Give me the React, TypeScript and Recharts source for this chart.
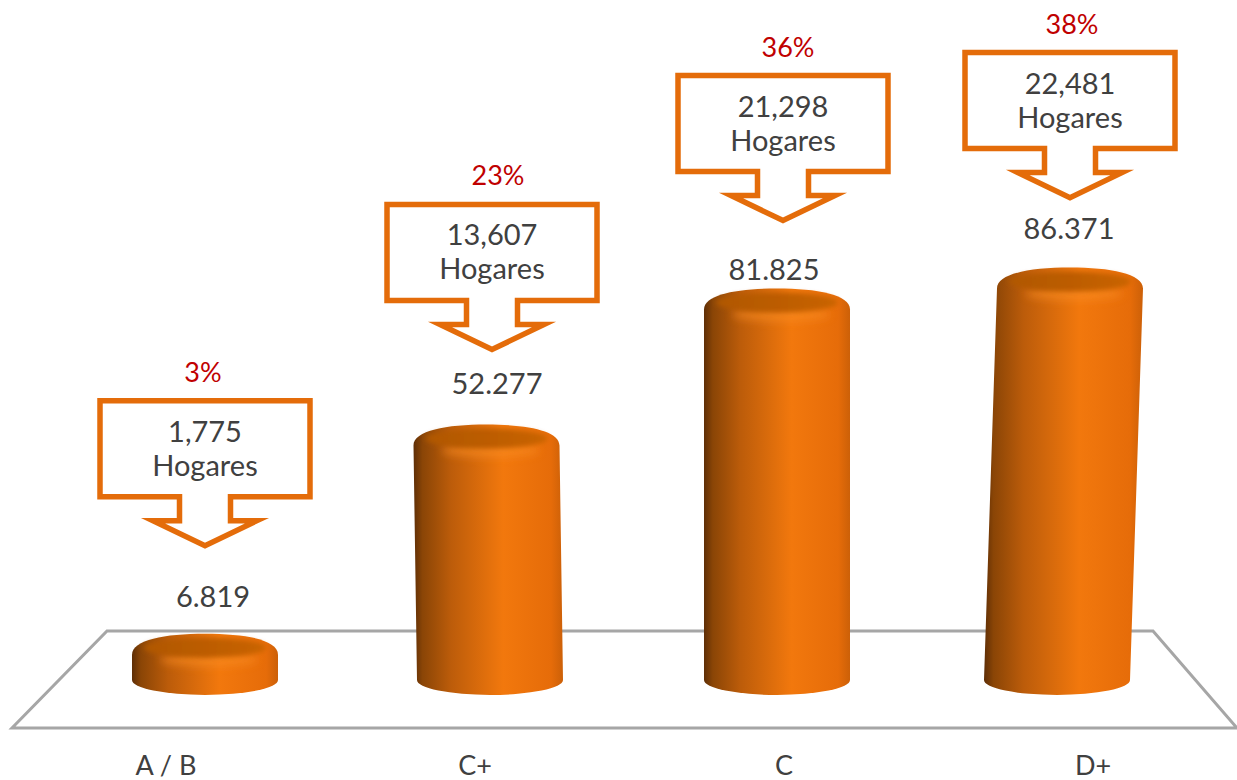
import React from 'react';
import { BarChart, Bar, XAxis, YAxis, LabelList } from 'recharts';

const categories = ['A / B', 'C+', 'C', 'D+'];
const values = [6.819, 52.277, 81.825, 86.371];
const households = ['1,775', '13,607', '21,298', '22,481'];
const shares = ['3%', '23%', '36%', '38%'];

// hand nudges, the source picture is not evenly laid out
const topShift = [0, -5, -1, 5.5];
const bottomShift = [0, -1.5, -1, -7.5];
const calloutLift = [103, 90, 83, 85];
const calloutShift = [0, 0.5, 5, 5.5];
const valueLift = [52, 55, 34, 54];
const valueShift = [8, 5.5, -4, 4.5];
const shareShift = [-2, 6, 5, 2];

const FONT = 'Lato, "Open Sans", sans-serif';
const ORANGE = '#E46C0A';
const TEXT = '#404040';

const data = categories.map((category, i) => ({ category, value: values[i] }));

const Cylinder = ({ x, y, width, height, index }: any) => {
  const cx = x + width / 2;
  const top = cx + topShift[index];
  const bottom = cx + bottomShift[index];
  const base = y + height;
  const rx = width / 2;
  const ry = 15;
  const body = [
    `M${top - rx} ${y + 6}`,
    `C${top - rx} ${y - 9} ${top - rx * 0.55} ${y - ry} ${top} ${y - ry}`,
    `C${top + rx * 0.55} ${y - ry} ${top + rx} ${y - 9} ${top + rx} ${y + 6}`,
    `L${bottom + rx} ${base}`,
    `A${rx} ${ry} 0 0 1 ${bottom - rx} ${base}`,
    'Z',
  ].join(' ');
  return (
    <g>
      <path d={body} fill="url(#cylBody)" />
      <ellipse cx={top + 4} cy={y + 11} rx={rx - 24} ry={7} fill="#F98C22" opacity={0.6} filter="url(#soft)" />
      <ellipse cx={top} cy={y - 1} rx={rx - 12} ry={ry - 5} fill="url(#cylCap)" filter="url(#softer)" />
    </g>
  );
};

const Callout = ({ x, y, width, index }: any) => {
  const tx = x + width / 2 + calloutShift[index];
  const tip = y - calloutLift[index];
  const rectTop = tip - 145;
  const rectBottom = tip - 49;
  const outline = [
    [-105, rectTop], [105, rectTop], [105, rectBottom], [25.5, rectBottom],
    [25.5, tip - 25], [52, tip - 25], [0, tip], [-52, tip - 25],
    [-25.5, tip - 25], [-25.5, rectBottom], [-105, rectBottom],
  ].map(([dx, py]) => `${tx + dx},${py}`).join(' ');
  return (
    <g fontFamily={FONT} textAnchor="middle">
      <polygon points={outline} fill="#fff" stroke={ORANGE} strokeWidth={5.5} strokeMiterlimit={6} />
      <text x={tx} y={rectTop + 41} fontSize={29} fill={TEXT}>{households[index]}</text>
      <text x={tx} y={rectTop + 75} fontSize={29} fill={TEXT}>Hogares</text>
      <text x={tx + shareShift[index]} y={rectTop - 19} fontSize={27} fill="#C00000">{shares[index]}</text>
    </g>
  );
};

const ValueLabel = ({ x, y, width, index, value }: any) => (
  <text
    x={x + width / 2 + valueShift[index]}
    y={y - valueLift[index] + 10}
    textAnchor="middle"
    fontFamily={FONT}
    fontSize={29}
    fill={TEXT}
  >
    {Number(value).toFixed(3)}
  </text>
);

const App = () => (
  <div style={{ position: 'absolute', left: 0, top: 0, width: 1237, height: 780, background: '#fff' }}>
    <BarChart width={1237} height={780} data={data} margin={{ top: 0, right: 0, bottom: 0, left: 0 }}>
      <defs>
        <linearGradient id="cylBody" x1="0" y1="0" x2="1" y2="0">
          <stop offset="0" stopColor="#5E2E06" />
          <stop offset="0.06" stopColor="#8A4506" />
          <stop offset="0.25" stopColor="#BC5C0A" />
          <stop offset="0.6" stopColor="#F2780D" />
          <stop offset="0.92" stopColor="#E66C09" />
          <stop offset="1" stopColor="#CC6008" />
        </linearGradient>
        <linearGradient id="cylCap" x1="0" y1="0" x2="1" y2="0">
          <stop offset="0" stopColor="#B05806" />
          <stop offset="0.5" stopColor="#BC5C06" />
          <stop offset="1" stopColor="#C96406" />
        </linearGradient>
        <filter id="soft" x="-20%" y="-100%" width="140%" height="300%">
          <feGaussianBlur stdDeviation="4" />
        </filter>
        <filter id="softer" x="-20%" y="-50%" width="140%" height="200%">
          <feGaussianBlur stdDeviation="2.5" />
        </filter>
      </defs>
      <polygon points="107,631 1153,631 1237,728 12,728" fill="none" stroke="#A6A6A6" strokeWidth={3} />
      <XAxis xAxisId="bars" dataKey="category" hide padding={{ left: 62, right: 29 }} />
      <XAxis
        xAxisId="ticks"
        dataKey="category"
        scale="point"
        height={100}
        axisLine={false}
        tickLine={false}
        interval={0}
        padding={{ left: 166, right: 144 }}
        tickMargin={40}
        tick={{ fill: TEXT, fontSize: 27, fontFamily: FONT }}
      />
      <YAxis hide domain={[0, 147.8]} />
      <Bar xAxisId="bars" dataKey="value" barSize={146} shape={<Cylinder />} isAnimationActive={false}>
        <LabelList dataKey="value" content={<ValueLabel />} />
        <LabelList dataKey="value" content={<Callout />} />
      </Bar>
    </BarChart>
  </div>
);

export default App;
